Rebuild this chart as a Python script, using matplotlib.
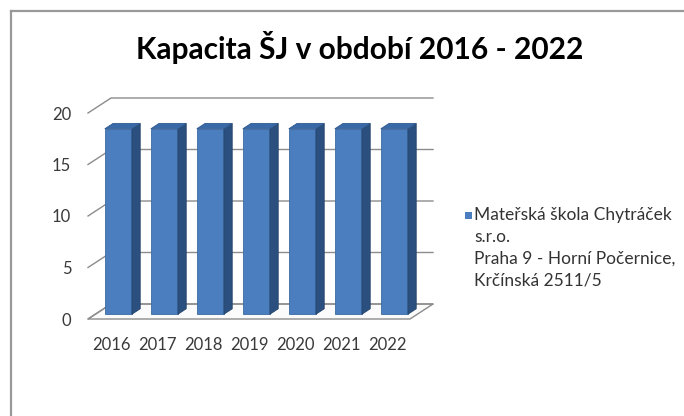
import matplotlib
matplotlib.use("Agg")
import matplotlib.pyplot as plt
from matplotlib.patches import Polygon, Rectangle
from matplotlib.lines import Line2D
from matplotlib.transforms import Affine2D, IdentityTransform
import numpy as np

plt.rcParams['font.family'] = ['Lato', 'DejaVu Sans']

title = "Kapacita ŠJ v období 2016 - 2022"
years = ["2016", "2017", "2018", "2019", "2020", "2021", "2022"]
values = [18, 18, 18, 18, 18, 18, 18]
series_lines = ["Mateřská škola Chytráček", "s.r.o.", "Praha 9 - Horní Počernice,", "Krčínská 2511/5"]
yticks = [0, 5, 10, 15, 20]

W, H = 684, 416
fig = plt.figure(figsize=(W / 100, H / 100), dpi=100)
IDT = IdentityTransform()

# outer frame
fig.add_artist(Line2D([11 / W, 11 / W], [0, 1 - 11 / H], transform=fig.transFigure,
                      color="#999999", lw=1.6))
fig.add_artist(Line2D([11 / W, 1], [1 - 11 / H, 1 - 11 / H], transform=fig.transFigure,
                      color="#999999", lw=1.6))

fx0, fx1, fy0, fy20 = 88, 410, 319, 113
ax = fig.add_axes([fx0 / W, (H - fy0) / H, (fx1 - fx0) / W, (fy0 - fy20) / H])
ax.set_xlim(-0.5, len(years) - 0.5)
ax.set_ylim(0, 20)
for s in ax.spines.values():
    s.set_visible(False)
ax.patch.set_alpha(0)
x = np.arange(len(years))
ax.set_xticks(x)
ax.set_xticklabels(years)
ax.set_yticks(yticks)
ax.tick_params(length=0, labelsize=12, colors="#3a3a3a")
ax.tick_params(axis="y", pad=12)
ax.tick_params(axis="x", pad=13)

fig.canvas.draw()
tD = ax.transData
DX, DY = 23, 15  # full depth offset (pixels)
grid_c = "#8c8c8c"

def P(xv, yv, f):
    px, py = tD.transform((xv, yv))
    return (px + DX * f, py + DY * f)

xl, xr = -0.5, len(years) - 0.5
# floor
fl = [P(xl, 0, 0), P(xr, 0, 0), P(xr, 0, 1), P(xl, 0, 1)]
fig.add_artist(Polygon(fl, closed=True, transform=IDT, facecolor="#fbfbfb",
                       edgecolor=grid_c, lw=1.0, zorder=-2))
# back wall gridlines and left wall lines
for yv in yticks:
    a = P(xl, yv, 0)
    b = P(xl, yv, 1)
    c = P(xr, yv, 1)
    fig.add_artist(Line2D([a[0], b[0], c[0]], [a[1], b[1], c[1]], transform=IDT,
                          color=grid_c, lw=1.0, zorder=-1))

# bars
bw = 0.59
f0, f1 = 0.32, 0.68
front_c, side_c, top_c = "#4a7ebf", "#2b5080", "#3a69a8"
for xi, v in zip(x, values):
    l, r = xi - bw / 2, xi + bw / 2
    side = [P(r, 0, f0), P(r, v, f0), P(r, v, f1), P(r, 0, f1)]
    top = [P(l, v, f0), P(r, v, f0), P(r, v, f1), P(l, v, f1)]
    fig.add_artist(Polygon(side, closed=True, transform=IDT, facecolor=side_c,
                           edgecolor="#24436b", lw=0.6, zorder=1))
    fig.add_artist(Polygon(top, closed=True, transform=IDT, facecolor=top_c,
                           edgecolor="#2f5a8f", lw=0.6, zorder=1))
bars = ax.bar(x, values, width=bw, color=front_c, edgecolor="#3a6aa3", linewidth=0.6,
              transform=tD + Affine2D().translate(DX * f0, DY * f0), zorder=5)

fig.text(360 / W, 1 - 47 / H, title, ha="center", va="center", fontsize=21.5,
         fontweight="bold", color="#000000")

# legend
fig.add_artist(Rectangle((465 / W, 1 - 219 / H), 7 / W, 7 / H, transform=fig.transFigure,
                         facecolor=front_c, edgecolor="none"))
for i, line in enumerate(series_lines):
    fig.text(474 / W, 1 - (215 + 22 * i) / H, line, ha="left", va="center",
             fontsize=12.5, color="#333333")

fig.savefig("out.png", dpi=100)
